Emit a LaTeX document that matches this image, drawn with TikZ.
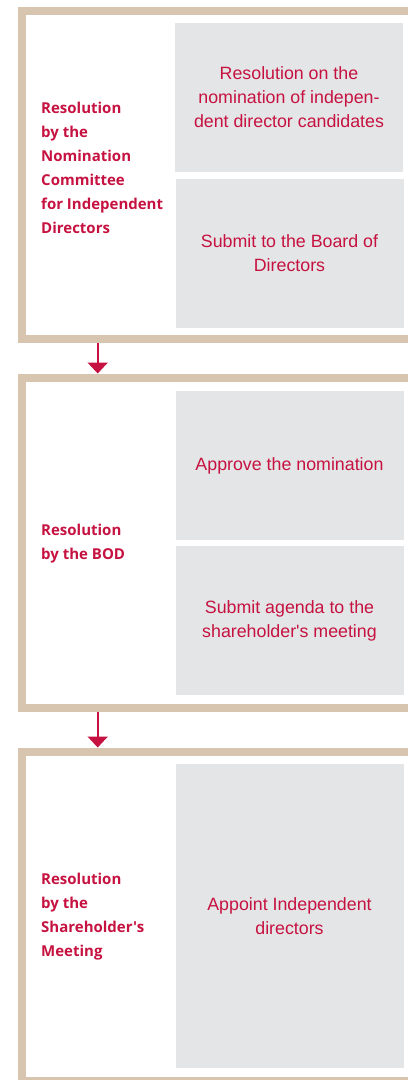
\documentclass[tikz,border=0pt]{standalone}
\usepackage{fontspec}
\setmainfont{Liberation Sans}
\newfontfamily\boxfont{Liberation Sans}
\newfontfamily\labelfont{Open Sans}
\usetikzlibrary{arrows.meta}
\definecolor{tan}{RGB}{216,197,175}
\definecolor{boxgray}{RGB}{228,229,231}
\definecolor{lgred}{RGB}{198,18,64}
\begin{document}
\begin{tikzpicture}[x=1pt,y=-1pt,
  frameline/.style={draw=tan, line width=8pt, line join=miter, line cap=butt},
  stepbox/.style={fill=boxgray, text=lgred, align=center, inner sep=0pt, minimum width=228pt, font=\boxfont\fontsize{17.8}{24}\selectfont},
  lefttext/.style={text=lgred, align=left, anchor=west, inner sep=0pt, font=\labelfont\bfseries\fontsize{15}{24}\selectfont},
  flow/.style={draw=lgred, line width=2.2pt, -{Triangle[width=20pt,length=11pt]}}]
\useasboundingbox (0,0) rectangle (408,1080);
% frames
\draw[frameline] (408,11) -- (22,11) -- (22,339) -- (408,339);
\draw[frameline] (408,378) -- (22,378) -- (22,707.5) -- (408,707.5);
\draw[frameline] (408,752) -- (22,752) -- (22,1081) -- (408,1081);
% gray boxes
\node[stepbox, minimum height=149pt] (b11) at (289,97.5) {Resolution on the\\nomination of indepen-\\dent director candidates};
\node[stepbox, minimum height=149pt] (b12) at (289.5,253.5) {Submit to the Board of\\Directors};
\node[stepbox, minimum height=149pt] (b21) at (289.5,465.5) {Approve the nomination};
\node[stepbox, minimum height=149pt] (b22) at (289.5,620.5) {Submit agenda to the\\shareholder's meeting};
\node[stepbox, minimum height=304pt] (b3) at (289.5,916) {Appoint Independent\\directors};
% left labels
\node[lefttext] (l1) at (41,168) {Resolution\\by the\\Nomination\\Committee\\for Independent\\Directors};
\node[lefttext] (l2) at (41,544) {Resolution\\by the BOD};
\node[lefttext] (l3) at (41,917) {Resolution\\by the\\Shareholder's\\Meeting};
% arrows
\coordinate (a1s) at (97.7,343);
\coordinate (a1e) at (97.7,373.5);
\coordinate (a2s) at (97.7,711.5);
\coordinate (a2e) at (97.7,747.5);
\draw[flow] (a1s) -- (a1e);
\draw[flow] (a2s) -- (a2e);
\end{tikzpicture}
\end{document}
